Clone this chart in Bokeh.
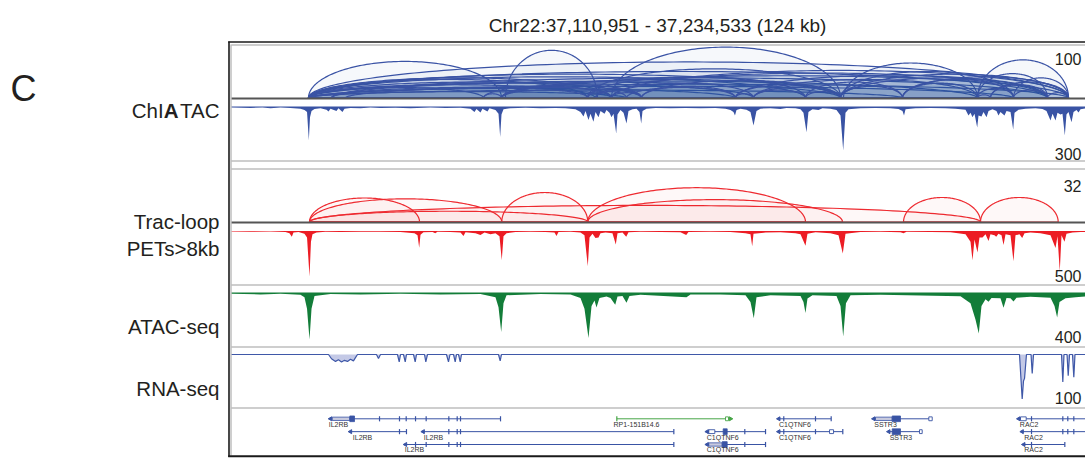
import numpy as np
from bokeh.plotting import figure
from bokeh.models import Range1d
from bokeh.core.properties import value
from bokeh.embed import file_html
from bokeh.resources import INLINE

# ---------------------------------------------------------------- region
CHROM = "Chr22"
REGION_START = 37110951
REGION_END = 37234533
# every position below is in kb from REGION_START

# ---------------------------------------------------------------- ChIATAC loops (PET count, track max 100)
chia_loop_start = [11.14, 11.14, 11.14, 11.14, 11.14, 11.14, 11.14, 11.14, 11.14, 11.14,
                   11.14, 11.14, 11.14, 11.14, 11.14, 11.14, 14.47, 14.47, 16.50, 14.47,
                   39.65, 39.07, 36.47, 39.07, 39.07, 36.47, 39.07, 54.99, 51.52, 52.67,
                   51.52, 54.99, 51.52, 52.67, 54.99, 57.16, 59.33, 72.93, 75.54, 72.93,
                   75.54, 83.06, 88.56, 88.13, 88.13, 88.13, 97.10, 88.13, 107.95, 107.95,
                   113.16, 109.83, 107.95, 118.08, 97.10,
                   39.07, 51.52, 52.67, 54.99, 59.33, 72.93, 75.54, 83.06, 97.10, 113.16,
                   107.95, 109.83]
chia_loop_end = [39.07, 121.12, 118.08, 88.13, 83.06, 54.99, 51.52, 107.95, 59.33, 75.54,
                 52.67, 113.16, 36.47, 72.93, 97.10, 57.16, 118.08, 54.99, 121.12, 88.13,
                 52.96, 88.13, 54.99, 59.33, 121.12, 39.07, 51.52, 88.13, 88.13, 118.08,
                 83.06, 121.12, 54.99, 59.33, 75.54, 72.93, 88.13, 88.13, 88.13, 118.08,
                 107.95, 88.13, 107.95, 113.16, 121.12, 97.10, 107.95, 118.08, 121.12, 118.08,
                 121.12, 121.12, 113.16, 121.12, 121.12,
                 54.99, 59.33, 57.16, 59.33, 72.93, 75.54, 83.06, 97.10, 113.16, 118.08,
                 109.83, 118.08]
chia_loop_count = [69, 68, 50, 45, 40, 38, 35, 32, 30, 28,
                   25, 22, 20, 18, 15, 12, 38, 20, 26, 30,
                   90, 35, 22, 25, 42, 8, 15, 96, 55, 47,
                   40, 52, 10, 14, 28, 20, 33, 25, 20, 43,
                   35, 12, 66, 50, 45, 22, 28, 38, 72, 46,
                   38, 30, 18, 10, 40,
                   20, 18, 12, 10, 22, 8, 15, 30, 35, 15,
                   6, 25]

# ---------------------------------------------------------------- ChIATAC coverage (track max 300)
chia_pos = [0.00, 2.75, 4.49, 5.64, 7.09, 8.54, 9.98, 10.56, 10.93, 11.19,
            11.36, 11.58, 12.01, 12.88, 13.75, 14.04, 14.33, 15.19, 15.48, 16.06,
            16.35, 17.22, 18.67, 20.11, 21.56, 23.73, 25.90, 28.80, 30.97, 33.14,
            34.58, 35.16, 35.45, 36.03, 36.32, 37.04, 37.33, 38.20, 38.64, 38.88,
            39.07, 39.36, 40.37, 42.54, 44.71, 46.88, 48.33, 49.78, 50.50, 50.94,
            51.23, 51.66, 51.95, 52.38, 52.67, 53.11, 53.40, 53.98, 54.27, 54.70,
            54.99, 55.28, 55.67, 55.86, 56.29, 56.73, 57.16, 57.45, 58.03, 58.61,
            59.04, 59.29, 59.48, 60.05, 61.36, 63.53, 65.70, 67.87, 70.04, 71.49,
            72.21, 72.64, 72.86, 73.08, 73.66, 74.52, 75.10, 75.54, 75.97, 76.55,
            78.00, 79.44, 80.31, 81.61, 82.34, 82.77, 83.21, 83.49, 84.07, 84.94,
            85.52, 86.68, 87.55, 88.13, 88.52, 88.85, 89.29, 91.02, 93.19, 95.36,
            96.52, 97.10, 97.32, 97.54, 98.98, 101.15, 103.32, 104.77, 106.22, 106.65,
            106.94, 107.23, 107.52, 107.91, 108.10, 108.53, 108.82, 109.26, 109.55, 110.12,
            110.70, 110.99, 111.28, 111.86, 112.15, 112.73, 113.12, 113.31, 113.89, 114.90,
            116.35, 117.36, 117.94, 118.52, 118.81, 119.24, 119.53, 119.96, 120.25, 120.59,
            120.83, 121.12, 121.56, 121.85, 122.28, 122.57, 122.86, 123.58]
chia_val = [6, 8, 5, 10, 6, 9, 12, 20, 30, 189,
            60, 25, 14, 10, 18, 28, 12, 25, 10, 30,
            12, 8, 10, 6, 9, 7, 10, 6, 8, 7,
            12, 30, 14, 33, 12, 28, 10, 20, 40, 170,
            45, 15, 10, 7, 10, 8, 10, 15, 30, 55,
            25, 75, 40, 85, 30, 60, 25, 40, 20, 35,
            60, 40, 150, 45, 20, 35, 95, 25, 15, 12,
            30, 95, 25, 12, 8, 10, 8, 10, 8, 12,
            20, 30, 50, 20, 12, 18, 30, 105, 25, 12,
            10, 14, 8, 10, 15, 35, 143, 30, 15, 20,
            10, 12, 20, 50, 244, 35, 15, 10, 8, 10,
            14, 25, 50, 15, 10, 8, 10, 12, 18, 50,
            35, 60, 40, 117, 50, 55, 30, 60, 25, 15,
            25, 50, 30, 50, 25, 30, 128, 35, 18, 12,
            10, 14, 25, 78, 40, 78, 35, 45, 40, 161,
            45, 30, 87, 30, 20, 33, 15, 10]

# ---------------------------------------------------------------- Trac-loop loops (PETs > 8 kb, track max 32)
trac_loop_start = [11.29, 11.29, 11.29, 11.29, 39.11, 51.56, 51.56, 97.25, 108.39]
trac_loop_end = [27.21, 39.11, 108.39, 51.56, 51.56, 83.06, 88.42, 108.39, 119.63]
trac_loop_count = [14.5, 14.0, 10.0, 6.5, 17.8, 20.7, 13.5, 14.8, 14.8]

# ---------------------------------------------------------------- Trac-loop coverage (track max 500)
trac_pos = [0.00, 2.75, 5.64, 7.81, 8.39, 8.73, 8.97, 9.70, 10.56, 10.93,
            11.29, 11.50, 11.72, 12.30, 13.60, 15.77, 18.67, 21.56, 24.46, 26.48,
            26.92, 27.16, 27.35, 27.78, 29.09, 29.48, 29.81, 31.69, 33.14, 33.57,
            33.86, 35.31, 36.03, 36.61, 37.48, 38.20, 38.78, 39.11, 39.36, 39.80,
            41.10, 43.27, 45.44, 46.74, 47.03, 47.32, 49.06, 50.50, 51.08, 51.56,
            51.81, 52.24, 52.67, 53.11, 53.40, 54.12, 55.13, 55.61, 55.86, 56.58,
            57.12, 57.45, 59.19, 62.08, 64.97, 65.80, 66.13, 69.32, 72.21, 74.38,
            75.10, 75.35, 75.54, 77.28, 79.44, 81.61, 82.34, 83.06, 83.35, 84.51,
            86.68, 87.84, 88.46, 88.85, 91.02, 93.92, 96.81, 97.25, 97.68, 101.15,
            104.05, 106.22, 106.94, 107.23, 107.52, 107.95, 108.24, 108.68, 109.11, 109.55,
            109.83, 110.41, 110.66, 110.99, 111.43, 111.72, 112.01, 112.73, 113.16, 113.45,
            114.03, 114.42, 114.76, 115.62, 117.07, 118.52, 119.24, 119.53, 119.86, 120.11,
            120.54, 120.83, 121.70, 122.86, 123.58]
trac_val = [5, 8, 5, 10, 20, 53, 15, 10, 25, 60,
            425, 100, 30, 15, 8, 10, 6, 8, 10, 20,
            40, 157, 35, 12, 10, 20, 8, 10, 15, 47,
            12, 20, 38, 15, 30, 20, 50, 274, 50, 20,
            10, 8, 10, 15, 47, 10, 8, 15, 40, 330,
            60, 25, 66, 60, 20, 15, 20, 125, 20, 15,
            53, 12, 8, 10, 12, 38, 10, 8, 10, 20,
            30, 142, 25, 15, 12, 20, 30, 139, 25, 12,
            20, 40, 211, 25, 10, 8, 12, 20, 8, 10,
            12, 30, 100, 274, 80, 200, 60, 60, 30, 94,
            30, 40, 53, 25, 40, 132, 30, 40, 283, 40,
            30, 66, 20, 15, 20, 40, 160, 50, 377, 40,
            101, 25, 15, 10, 8]

# ---------------------------------------------------------------- ATAC-seq coverage (track max 400)
atac_pos = [0.00, 4.20, 7.09, 9.98, 10.56, 10.93, 11.29, 11.58, 12.01, 14.33,
            18.67, 24.46, 30.24, 36.03, 38.20, 38.64, 39.03, 39.36, 39.80, 44.71,
            49.06, 50.50, 51.08, 51.66, 52.10, 52.53, 52.82, 53.25, 54.27, 54.84,
            55.53, 55.86, 56.58, 57.16, 57.59, 59.19, 65.84, 66.42, 70.76, 74.38,
            75.10, 75.58, 75.97, 78.00, 82.34, 82.77, 83.06, 83.35, 84.07, 87.55,
            88.13, 88.52, 88.92, 89.58, 93.92, 99.70, 105.49, 106.94, 107.66, 108.14,
            108.53, 109.11, 109.55, 109.98, 111.28, 111.72, 112.15, 112.73, 113.16, 113.60,
            115.62, 118.52, 119.10, 119.48, 119.82, 120.69, 122.14, 123.58]
atac_val = [10, 14, 10, 16, 35, 120, 349, 120, 25, 12,
            15, 10, 14, 12, 35, 110, 292, 80, 20, 11,
            14, 40, 120, 337, 100, 60, 111, 40, 30, 40,
            91, 30, 25, 75, 25, 16, 35, 15, 14, 20,
            70, 191, 35, 20, 25, 70, 151, 45, 20, 25,
            100, 325, 80, 20, 16, 22, 28, 80, 200, 304,
            100, 50, 68, 40, 42, 113, 40, 42, 66, 38,
            32, 38, 100, 185, 70, 42, 35, 30]

# ---------------------------------------------------------------- RNA-seq coverage (track max 100)
rna_pos = [0.00, 14.04, 14.47, 15.05, 15.48, 15.92, 16.35, 16.79, 17.22, 17.65,
           17.94, 18.23, 20.98, 21.27, 21.56, 24.02, 24.27, 24.46, 24.89, 25.14,
           25.32, 26.34, 26.58, 26.77, 27.93, 28.12, 28.36, 31.11, 31.40, 31.62,
           32.13, 32.37, 32.56, 32.85, 33.10, 33.28, 38.64, 38.88, 39.07, 114.03,
           114.42, 114.61, 114.76, 115.04, 115.70, 115.87, 116.06, 120.11, 120.30, 120.47,
           120.91, 121.08, 121.27, 121.70, 121.89, 122.06, 123.58]
rna_val = [0, 0, 8, 13, 10, 14, 11, 13, 9, 12,
           6, 0, 0, 7.5, 0, 0, 14, 0, 0, 14,
           0, 0, 14, 0, 0, 14, 0, 0, 14, 0,
           0, 14, 0, 0, 14, 0, 0, 12, 0, 0,
           84, 50, 45, 0, 0, 36, 0, 0, 52, 0,
           0, 40, 0, 0, 43, 0, 0]

# ---------------------------------------------------------------- gene models
gene_names = ["IL2RB", "IL2RB", "IL2RB", "IL2RB", "RP1-151B14.6", "C1QTNF6", "C1QTNF6",
              "C1QTNF6", "C1QTNF6", "SSTR3", "SSTR3", "RAC2", "RAC2", "RAC2"]
gene_rows = [0, 1, 1, 2, 0, 0, 1, 1, 2, 0, 1, 0, 1, 2]
gene_start = [14.33, 17.22, 27.74, 25.18, 55.76, 79.20, 68.84, 79.20, 68.84, 92.95,
              95.12, 113.93, 114.42, 114.65]
gene_end = [38.93, 25.32, 64.01, 64.01, 72.21, 86.78, 77.28, 88.46, 77.28, 101.40,
            99.95, 125.00, 125.00, 120.59]
gene_strand = ["-", "-", "-", "-", "+", "-", "-", "-", "-", "-", "-", "-", "-", "-"]
gene_label_pos = [15.48, 18.96, 29.23, 26.48, 58.61, 81.54, 71.09, 81.54, 71.09, 94.64,
                  96.88, 115.43, 116.06, 116.06]
gene_exons = [[21.42, 24.31, 25.28, 26.63, 28.17, 31.45, 32.66, 33.14, 38.93],
              [24.31, 25.32],
              [31.45, 32.66, 33.14, 64.01],
              [26.63, 28.17, 31.45, 32.66, 33.14, 64.01],
              [55.76],
              [79.92, 84.51, 86.78],
              [74.28, 77.28],
              [79.92, 84.51, 88.46],
              [74.28, 77.28],
              [],
              [],
              [115.77, 120.30, 121.02, 121.89],
              [115.77, 120.30, 121.02, 121.89],
              [115.77, 120.59]]
utr_gene = [0, 8, 9]
utr_start = [14.57, 69.07, 93.19]
utr_end = [17.12, 71.01, 95.61]
cds_gene = [0, 6, 8, 9, 10]
cds_start = [17.12, 71.15, 71.01, 95.61, 95.61]
cds_end = [17.80, 71.73, 71.73, 96.81, 96.81]
open_gene = [4, 6, 7, 9, 10, 11]
open_start = [71.49, 69.07, 86.54, 100.91, 99.56, 114.18]
open_end = [71.92, 69.94, 87.12, 101.40, 99.95, 115.00]

# ---------------------------------------------------------------- page geometry (pixels)
W, H = 1085, 461
TRACK_LEFT = 231
FONT = "Liberation Sans"
INK = "#231f20"
BLUE = "#3953a4"
RED = "#ec1c24"
GREEN = "#137d39"
GENE_COLORS = {"RP1-151B14.6": "#46a546"}

kb_per_px = (REGION_END - REGION_START) / 1000 / (W - TRACK_LEFT)


def band(zero_px, full_px, vmax):
    """A y range that puts 0 at zero_px and vmax at full_px (pixels from top)."""
    span = zero_px - full_px
    return Range1d(start=(zero_px - H) / span * vmax, end=zero_px / span * vmax)


p = figure(width=W, height=H, output_backend="svg", toolbar_location=None,
           x_range=Range1d(-TRACK_LEFT * kb_per_px, (W - TRACK_LEFT) * kb_per_px),
           y_range=Range1d(H, 0), x_axis_type=None, y_axis_type=None,
           min_border=0, outline_line_color=None,
           background_fill_color="white", border_fill_color="white")
p.grid.visible = False
p.extra_x_ranges = {"px": Range1d(0, W)}
p.extra_y_ranges = {
    "chia_loop": band(97.5, 44.5, 100),
    "chia_cov": band(106.0, 160.0, 300),
    "trac_loop": band(221.5, 168.5, 32),
    "trac_cov": band(230.5, 284.0, 500),
    "atac": band(292.0, 346.0, 400),
    "rna": band(354.0, 407.0, 100),
    "genes": band(418.3, 431.15, 1),
}


def arc_outlines(starts, ends, heights, n=120):
    t = np.linspace(0.0, np.pi, n)
    xs, ys = [], []
    for s, e, h in zip(starts, ends, heights):
        xs.append((s + e) / 2 + (e - s) / 2 * np.cos(t))
        ys.append(h * np.sin(t))
    return xs, ys


# loops
xs, ys = arc_outlines(chia_loop_start, chia_loop_end, chia_loop_count)
p.patches(xs, ys, fill_color=BLUE, fill_alpha=0.045, line_color="#3a53a5",
          line_width=1.2, y_range_name="chia_loop")
xs, ys = arc_outlines(trac_loop_start, trac_loop_end, trac_loop_count)
p.patches(xs, ys, fill_color=RED, fill_alpha=0.03, line_color="#ee2a30",
          line_width=1.2, y_range_name="trac_loop")

# coverage tracks
p.varea(x=chia_pos, y1=0, y2=chia_val, fill_color=BLUE, y_range_name="chia_cov")
p.varea(x=trac_pos, y1=0, y2=trac_val, fill_color=RED, y_range_name="trac_cov")
p.varea(x=atac_pos, y1=0, y2=atac_val, fill_color=GREEN, y_range_name="atac")
p.varea(x=rna_pos, y1=0, y2=rna_val, fill_color="#c4c9e6", y_range_name="rna")
p.line(x=rna_pos, y=rna_val, line_color="#3f58a8", line_width=1.2, y_range_name="rna")

# gene models
gcol = [GENE_COLORS.get(n, BLUE) for n in gene_names]
p.segment(x0=gene_start, x1=gene_end, y0=gene_rows, y1=gene_rows, line_color=gcol,
          line_width=1, y_range_name="genes")
tx, tr, tc = [], [], []
for i, ex in enumerate(gene_exons):
    for e in ex:
        tx.append(e)
        tr.append(gene_rows[i])
        tc.append(gcol[i])
p.segment(x0=tx, x1=tx, y0=[r - 0.2 for r in tr], y1=[r + 0.2 for r in tr],
          line_color=tc, line_width=1.2, y_range_name="genes")
p.quad(left=utr_start, right=utr_end,
       top=[gene_rows[g] - 0.13 for g in utr_gene], bottom=[gene_rows[g] + 0.13 for g in utr_gene],
       fill_color="#c9cbdf", line_color=BLUE, line_width=0.8, y_range_name="genes")
p.quad(left=cds_start, right=cds_end,
       top=[gene_rows[g] - 0.22 for g in cds_gene], bottom=[gene_rows[g] + 0.22 for g in cds_gene],
       fill_color=BLUE, line_color=BLUE, line_width=0.8, y_range_name="genes")
p.quad(left=open_start, right=open_end,
       top=[gene_rows[g] - 0.15 for g in open_gene], bottom=[gene_rows[g] + 0.15 for g in open_gene],
       fill_color="white", line_color=[gcol[g] for g in open_gene], line_width=0.9,
       y_range_name="genes")
ax = [s if d == "-" else e for s, e, d in zip(gene_start, gene_end, gene_strand)]
aang = [np.pi / 2 if d == "-" else -np.pi / 2 for d in gene_strand]
p.scatter(x=ax, y=gene_rows, marker="triangle", size=4, angle=aang,
          fill_color=gcol, line_color=gcol, y_range_name="genes")
p.text(x=gene_label_pos, y=[r + 0.42 for r in gene_rows], text=gene_names,
       text_font=value(FONT), text_font_size=value("7px"), text_color="#333333",
       text_align="center", text_baseline="middle", y_range_name="genes")

# panel frames
gray_y = [44.5, 160.5, 168.5, 284.5, 346.5, 407.5]
p.segment(x0=[TRACK_LEFT] * len(gray_y), x1=[W] * len(gray_y), y0=gray_y, y1=gray_y,
          line_color="#9d9d9d", line_width=1, x_range_name="px")
p.segment(x0=[TRACK_LEFT] * 2, x1=[W] * 2, y0=[98.0, 222.0], y1=[98.0, 222.0],
          line_color="#555555", line_width=2, x_range_name="px")
p.segment(x0=[230.5], x1=[230.5], y0=[44], y1=[455], line_color="#9d9d9d",
          line_width=1, x_range_name="px")
p.segment(x0=[228.5, 227.7, 227.7], x1=[228.5, W, W], y0=[41, 41.5, 455.8],
          y1=[456.5, 41.5, 455.8], line_color="#1a1a1a", line_width=[1.6, 1.6, 2.0],
          x_range_name="px")


def label(x, y, text, size, align="right", style="normal"):
    p.text(x=[x], y=[y], text=[text], text_font=value(FONT),
           text_font_size=value(size), text_font_style=style, text_color=INK,
           text_align=align, text_baseline="alphabetic", x_range_name="px")


# title
span_kb = round((REGION_END - REGION_START) / 1000)
label(657, 25, f"{CHROM}:{REGION_START:,} - {REGION_END:,} ({span_kb} kb)", "19px", "center")
# panel letter
label(10, 88, "C", "36px", "left")
# track names; ChIATAC has a bold A
LBL = 20.5
label(219, 110, "TAC", f"{LBL}px")
label(219 - 2.0 * LBL, 110, "A", f"{LBL}px", style="bold")
label(219 - 2.722 * LBL, 110, "ChI", f"{LBL}px")
label(219, 221, "Trac-loop", f"{LBL}px")
label(219, 248, "PETs>8kb", f"{LBL}px")
label(219, 326, "ATAC-seq", f"{LBL}px")
label(219, 388, "RNA-seq", f"{LBL}px")
# data-range maxima
for yb, t in [(58, "100"), (153, "300"), (185, "32"), (275, "500"), (336.5, "400"), (397, "100")]:
    label(1081, yb, t, "16px")

open("out.html", "w").write(file_html(p, INLINE))
